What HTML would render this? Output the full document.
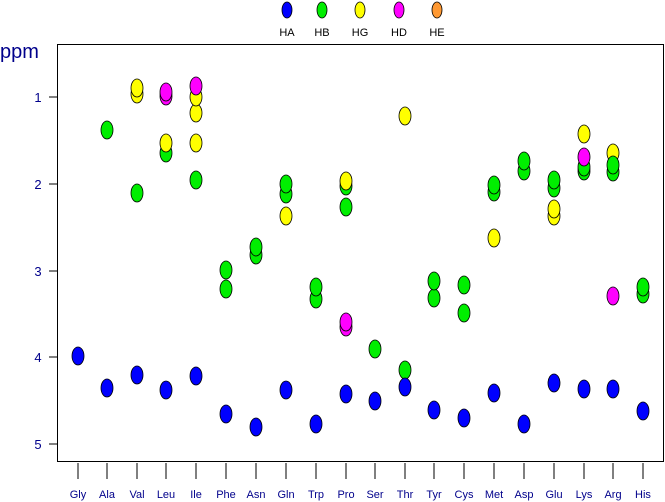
<!DOCTYPE html>
<html><head><meta charset="utf-8"><style>
body{margin:0;background:#fff;}
svg{display:block;font-family:"Liberation Sans",sans-serif;}
</style></head><body>
<svg width="665" height="502" viewBox="0 0 665 502" xmlns="http://www.w3.org/2000/svg">
<rect x="0" y="0" width="665" height="502" fill="#fff"/>
<rect x="57.5" y="44.5" width="606" height="417" fill="none" stroke="#000" stroke-width="1"/>
<text x="0" y="58" font-size="20" fill="#00008b">ppm</text>
<g stroke="#000" stroke-width="1">
<line x1="49" y1="97" x2="57" y2="97"/><line x1="49" y1="184" x2="57" y2="184"/><line x1="49" y1="271" x2="57" y2="271"/><line x1="49" y1="357" x2="57" y2="357"/><line x1="49" y1="444" x2="57" y2="444"/>
</g>
<g font-size="13" fill="#00008b" text-anchor="middle">
<text x="38" y="102">1</text><text x="38" y="189">2</text><text x="38" y="276">3</text><text x="38" y="362">4</text><text x="38" y="449">5</text>
</g>
<g id="xt" stroke="#000" stroke-width="1"></g>
<g id="xl" font-size="11" fill="#00008b" text-anchor="middle"></g>
<g id="pts" stroke="#000" stroke-width="0.8"></g>
<g id="leg" font-size="11" fill="#000" text-anchor="middle" stroke="#000" stroke-width="0.8"></g>
</svg>
<script>
var ns="http://www.w3.org/2000/svg";
function el(p,t,a,txt){var e=document.createElementNS(ns,t);for(var k in a)e.setAttribute(k,a[k]);if(txt)e.textContent=txt;document.getElementById(p).appendChild(e);}
var names=["Gly","Ala","Val","Leu","Ile","Phe","Asn","Gln","Trp","Pro","Ser","Thr","Tyr","Cys","Met","Asp","Glu","Lys","Arg","His"];
var xs=[78,107,137,166,196,226,256,286,316,346,375,405,434,464,494,524,554,584,613,643];
names.forEach(function(n,i){el("xt","line",{x1:xs[i],y1:463,x2:xs[i],y2:479});el("xl","text",{x:xs[i],y:498},n);});
var C={A:"#0000ff",B:"#00ee00",G:"#ffff00",D:"#ff00ff",E:"#ff9933"};
var P=[[78,356,"A"],[107,130,"B"],[107,388,"A"],
[137,94,"G"],[137,88,"G"],[137,193,"B"],[137,375,"A"],
[166,96,"D"],[166,92,"D"],[166,153,"B"],[166,143,"G"],[166,390,"A"],
[196,143,"G"],[196,113,"G"],[196,97,"G"],[196,86,"D"],[196,180,"B"],[196,376,"A"],
[226,289,"B"],[226,270,"B"],[226,414,"A"],
[256,255,"B"],[256,247,"B"],[256,427,"A"],
[286,194,"B"],[286,184,"B"],[286,216,"G"],[286,390,"A"],
[316,299,"B"],[316,287,"B"],[316,424,"A"],
[346,207,"B"],[346,186,"B"],[346,181,"G"],[346,327,"D"],[346,322,"D"],[346,394,"A"],
[375,349,"B"],[375,401,"A"],
[405,116,"G"],[405,370,"B"],[405,387,"A"],
[434,298,"B"],[434,281,"B"],[434,410,"A"],
[464,313,"B"],[464,285,"B"],[464,418,"A"],
[494,238,"G"],[494,192,"B"],[494,185,"B"],[494,393,"A"],
[524,171,"B"],[524,161,"B"],[524,424,"A"],
[554,216,"G"],[554,209,"G"],[554,188,"B"],[554,180,"B"],[554,383,"A"],
[584,134,"G"],[584,171,"B"],[584,167,"B"],[584,157,"D"],[584,389,"A"],
[613,153,"G"],[613,172,"B"],[613,165,"B"],[613,296,"D"],[613,389,"A"],
[643,294,"B"],[643,287,"B"],[643,411,"A"]];
P.forEach(function(p){el("pts","ellipse",{cx:p[0],cy:p[1],rx:6,ry:9,fill:C[p[2]]});});
[["HA",287,"A"],["HB",322,"B"],["HG",360,"G"],["HD",399,"D"],["HE",437,"E"]].forEach(function(l){
el("leg","ellipse",{cx:l[1],cy:10,rx:5,ry:8,fill:C[l[2]]});
el("leg","text",{x:l[1],y:36,stroke:"none"},l[0]);});
</script>
</body></html>
